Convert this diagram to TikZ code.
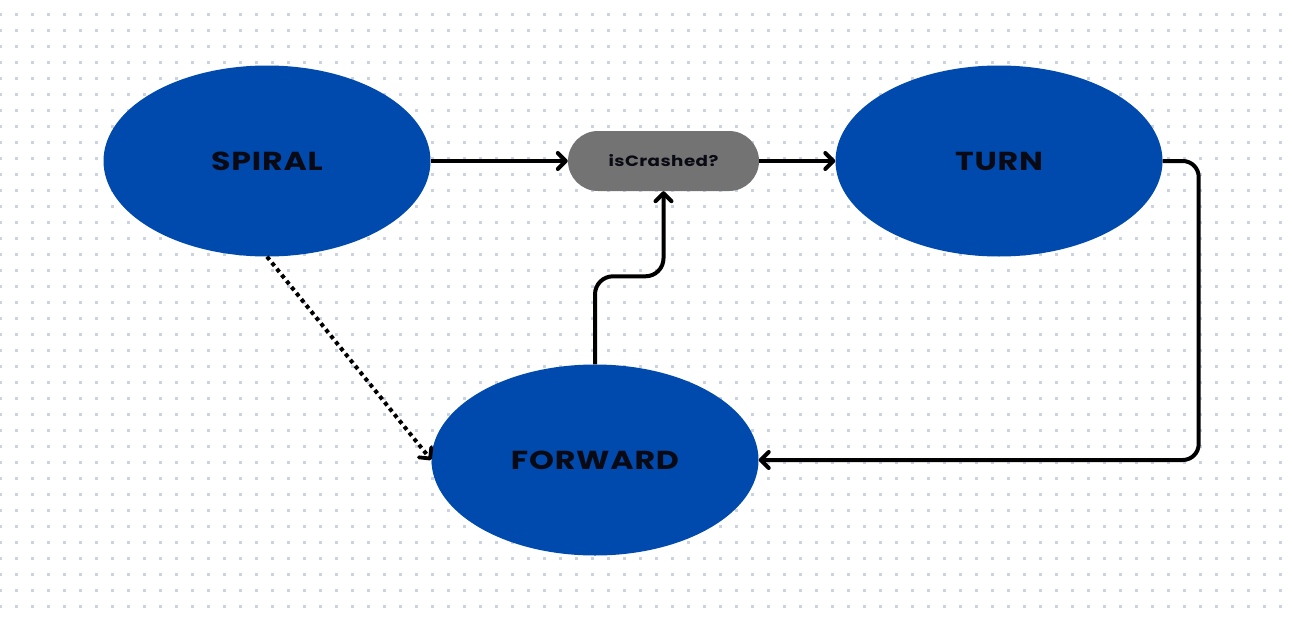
\documentclass[tikz,border=0pt]{standalone}
\usepackage{fontspec}
\setmainfont{Poppins}[FakeStretch=1.22,LetterSpace=3]
\usetikzlibrary{shapes.geometric,arrows.meta,calc}
\definecolor{stateblue}{HTML}{004AAD}
\definecolor{decgrey}{HTML}{737373}
\definecolor{dotc}{HTML}{CDD3DE}
\definecolor{txt}{HTML}{0A0A14}
\tikzset{
  statenode/.style={ellipse, fill=stateblue, minimum width=327pt, minimum height=191pt, inner sep=0pt, font=\fontsize{26}{30}\selectfont\bfseries, text=txt},
  decnode/.style={rounded corners=30pt, fill=decgrey, minimum width=191pt, minimum height=60pt, inner sep=0pt, font=\fontsize{15}{18}\selectfont\bfseries, text=txt},
  conn/.style={line width=4pt, -{Straight Barb[length=8pt,width=16pt,round]}},
  dotconn/.style={line width=4pt, dash pattern=on 4pt off 3.8pt, -{Straight Barb[length=8pt,width=16pt,round,line width=3.8pt]}}
}
\begin{document}
\begin{tikzpicture}[x=1pt,y=-1pt]
\fill[white] (0,0) rectangle (1293,621);
\useasboundingbox (0,0) rectangle (1293,621);
\foreach \i in {0,...,80}{
  \foreach \j in {0,...,38}{
    \fill[dotc] ({\i*16-1.5},{14+\j*16-1.5}) rectangle ++(3,3);
  }
}
\node[statenode] (spiral) at (267,161) {SPIRAL};
\node[statenode] (turn) at (999,161) {TURN};
\node[statenode] (fwd) at (595,460) {FORWARD};
\node[decnode] (crash) at (663.5,161) {isCrashed?};
\draw[conn] (spiral.east) -- (crash.west);
\draw[conn] (crash.east) -- (turn.west);
\draw[conn, rounded corners=16pt] (turn.east) -- ++(36,0) |- (fwd.east);
\draw[conn, rounded corners=18pt] (fwd.north) -- ++(0,-88) -| (crash.south);
\draw[dotconn] (spiral.south) -- (fwd.west);
\end{tikzpicture}
\end{document}
